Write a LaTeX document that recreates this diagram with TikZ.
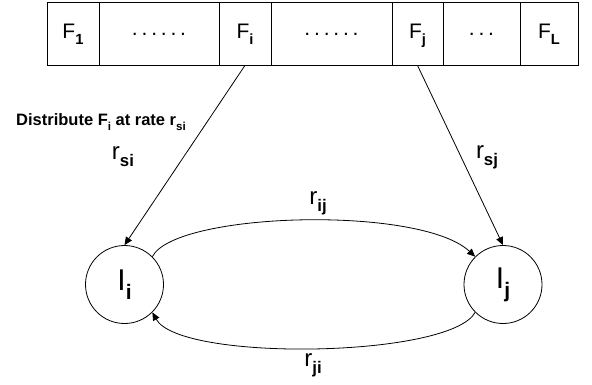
\documentclass[tikz,border=0pt]{standalone}
\usepackage{fontspec}
\setmainfont{Liberation Sans}
\usetikzlibrary{arrows.meta}
\newcommand\subs[1]{\raisebox{-0.3em}{\scalebox{0.7}{\bfseries #1}}}
\newcommand\spd{.\kern3.8pt}
\begin{document}
\begin{tikzpicture}[x=1pt,y=-1pt,
  line width=0.8pt,
  cell/.style={draw,rectangle,inner sep=0pt,minimum height=63pt,font=\fontsize{21}{24}\selectfont,text height=20pt,text depth=11pt},
  dotcell/.style={cell,text height=15pt,text depth=12pt},
  nodec/.style={draw,circle,inner sep=0pt,minimum size=78pt,font=\fontsize{30}{34}\selectfont},
  rlab/.style={inner sep=0pt,font=\fontsize{24}{28}\selectfont},
  arr/.style={-{Triangle[length=8pt,width=7pt]}}]
\useasboundingbox (0,0) rectangle (592,384);
\node[cell,minimum width=52pt] (F1) at (73,33.5) {F\subs{1}};
\node[dotcell,minimum width=120pt] (D1) at (159,33.5) {\spd\spd\spd\spd\spd.};
\node[cell,minimum width=52pt] (Fi) at (245,33.5) {F\subs{i}};
\node[dotcell,minimum width=121pt] (D2) at (331.5,33.5) {\spd\spd\spd\spd\spd.};
\node[cell,minimum width=51pt] (Fj) at (417.5,33.5) {F\subs{j}};
\node[dotcell,minimum width=77pt] (D3) at (481.5,33.5) {\spd\spd.};
\node[cell,minimum width=58pt] (FL) at (549,33.5) {F\subs{L}};
\node[nodec] (Ii) at (124.5,284.5) {I\subs{i}};
\node[nodec] (Ij) at (503,284.5) {I\subs{j}};
\draw[arr] (Fi.south) -- (Ii.north);
\draw[arr] (Fj.south) -- (Ij.north);
\draw[arr] (Ii.45) .. controls (175,212) and (420,205) .. (Ij.135);
\draw[arr] (Ij.225) .. controls (450,358) and (180,362) .. (Ii.315);
\node[inner sep=0pt,font=\fontsize{16.5}{19}\selectfont\bfseries] (dist) at (101,122) {Distribute F\subs{i} at rate r\subs{si}};
\node[rlab] (rsi) at (123,157) {r\subs{si}};
\node[rlab] (rsj) at (487,157) {r\subs{sj}};
\node[rlab] (rij) at (318,203) {r\subs{ij}};
\node[rlab] (rji) at (313,365) {r\subs{ji}};
\end{tikzpicture}
\end{document}
